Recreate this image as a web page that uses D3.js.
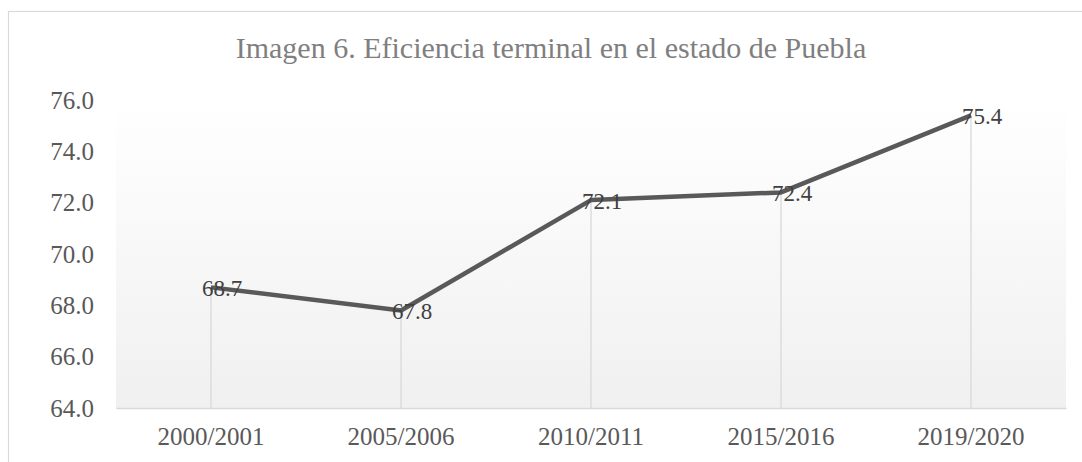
<!DOCTYPE html>
<html>
<head>
<meta charset="utf-8">
<script src="https://cdn.jsdelivr.net/npm/d3@7"></script>
<style>
  html, body { margin: 0; padding: 0; background: #fff; }
  svg { display: block; font-family: "Liberation Serif", "Times New Roman", serif; }
</style>
</head>
<body>
<svg id="chart" width="1082" height="462"></svg>
<script>
// --- データ ---
const categories = ["2000/2001", "2005/2006", "2010/2011", "2015/2016", "2019/2020"];
const values = [68.7, 67.8, 72.1, 72.4, 75.4];
const yTicks = [64, 66, 68, 70, 72, 74, 76];
const title = "Imagen 6. Eficiencia terminal en el estado de Puebla";

const svg = d3.select("#chart");
const plot = { left: 116, right: 1066, top: 100, bottom: 408 };
const FONT = "'Liberation Serif', 'Times New Roman', serif";

// 外枠
svg.append("rect")
    .attr("x", 8.5).attr("y", 11.5)
    .attr("width", 1200).attr("height", 600)
    .attr("fill", "#fff")
    .attr("stroke", "#d9d9d9")
    .attr("stroke-width", 1.2);

// グラデーション
const grad = svg.append("defs").append("linearGradient")
    .attr("id", "plotFill")
    .attr("x1", 0).attr("y1", 0).attr("x2", 0).attr("y2", 1);
grad.append("stop").attr("offset", "0%").attr("stop-color", "#ffffff");
grad.append("stop").attr("offset", "100%").attr("stop-color", "#f0f0f0");

const x = d3.scaleBand().domain(categories).range([plot.left, plot.right]);
const y = d3.scaleLinear().domain([64, 76]).range([plot.bottom, plot.top]);

svg.append("rect")
    .attr("x", plot.left).attr("y", plot.top)
    .attr("width", plot.right - plot.left)
    .attr("height", plot.bottom - plot.top)
    .attr("fill", "url(#plotFill)");

// タイトル
svg.append("text")
    .attr("x", 551).attr("y", 58)
    .attr("text-anchor", "middle")
    .style("font-family", FONT)
    .style("font-size", "30px")
    .style("fill", "#7f7f7f")
    .text(title);

// Y 軸
const yAxis = svg.append("g")
    .attr("transform", `translate(${plot.left - 22},0)`)
    .call(d3.axisLeft(y).tickValues(yTicks).tickSize(0).tickPadding(0).tickFormat(d3.format(".1f")));
yAxis.select(".domain").remove();
yAxis.selectAll("text")
    .attr("dy", "0.33em")
    .style("font-size", "25px")
    .style("font-family", FONT)
    .style("fill", "#595959");

const cx = (d) => x(d) + x.bandwidth() / 2;

// ドロップライン
svg.append("g")
    .selectAll("line")
    .data(categories)
    .enter()
    .append("line")
    .attr("x1", cx).attr("x2", cx)
    .attr("y1", (d, i) => y(values[i]))
    .attr("y2", plot.bottom)
    .attr("stroke", "#d9d9d9")
    .attr("stroke-width", 1.3);

// X 軸
const xAxis = svg.append("g")
    .attr("transform", `translate(0,${plot.bottom})`)
    .call(d3.axisBottom(x).tickSize(0).tickPadding(0));
xAxis.select(".domain")
    .attr("stroke", "#d9d9d9")
    .attr("stroke-width", 1.5);
xAxis.selectAll("text")
    .attr("y", 37)
    .attr("dy", 0)
    .style("font-size", "25px")
    .style("font-family", FONT)
    .style("fill", "#595959");

// 折れ線
const line = d3.line()
    .x((d, i) => cx(categories[i]))
    .y((d) => y(d));

svg.append("path")
    .datum(values)
    .attr("d", line)
    .attr("fill", "none")
    .attr("stroke", "#595959")
    .attr("stroke-width", 4.5)
    .attr("stroke-linejoin", "round");

// データラベル
svg.append("g")
    .selectAll("text")
    .data(values)
    .enter()
    .append("text")
    .attr("x", (d, i) => cx(categories[i]) - 9)
    .attr("y", (d) => y(d) + 9)
    .style("font-family", FONT)
    .style("font-size", "23px")
    .style("fill", "#404040")
    .text((d) => d.toFixed(1));
</script>
</body>
</html>
